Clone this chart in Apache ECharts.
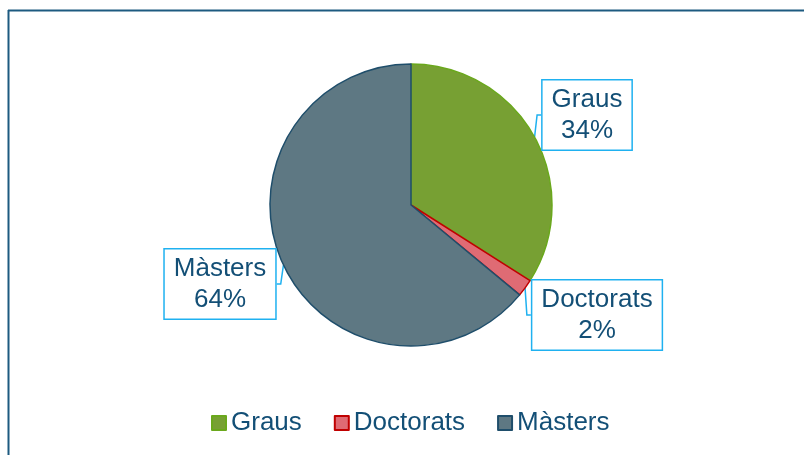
<!DOCTYPE html>
<html>
<head>
<meta charset="utf-8">
<script src="https://cdn.jsdelivr.net/npm/echarts@6/dist/echarts.min.js"></script>
<style>
  html, body { margin: 0; padding: 0; background: #fff; }
  #main { width: 804px; height: 455px; }
</style>
</head>
<body>
<div id="main"></div>
<script>
// dades
var categories = ['Graus', 'Doctorats', 'Màsters'];
var values = [34, 2, 64];
var fillColors = ['#77a033', '#df6b74', '#5e7883'];
var edgeColors = ['#6aa81c', '#c00000', '#1f4e6b'];

// posicions de les etiquetes (centre de la caixa)
var labelPos = [[587, 115], [597, 315], [220, 284]];

var textColor = '#134f76';
var calloutColor = '#1fb1f0';

var myChart = echarts.init(document.getElementById('main'));

var data = categories.map(function (name, i) {
  return {
    name: name,
    value: values[i],
    itemStyle: { color: fillColors[i], borderColor: edgeColors[i], borderWidth: 1.5 }
  };
});

myChart.setOption({
  animation: false,
  textStyle: { fontFamily: 'Liberation Sans, Arial, sans-serif' },
  graphic: [
    // marc del gràfic (només dalt i esquerra visibles)
    { type: 'line', shape: { x1: 8, y1: 10.5, x2: 804, y2: 10.5 }, style: { stroke: '#1d5a80', lineWidth: 2 } },
    { type: 'line', shape: { x1: 8.5, y1: 10, x2: 8.5, y2: 455 }, style: { stroke: '#1d5a80', lineWidth: 2 } }
  ],
  legend: {
    left: 206,
    top: 405,
    itemWidth: 14,
    itemHeight: 14,
    itemGap: 32,
    icon: 'rect',
    textStyle: { fontSize: 26, color: textColor },
    data: categories
  },
  series: [
    {
      name: 'Estudis',
      type: 'pie',
      center: [411, 205],
      radius: [0, 141],
      startAngle: 90,
      clockwise: true,
      avoidLabelOverlap: false,
      label: {
        show: true,
        formatter: '{b}\n{d}%',
        fontSize: 26,
        lineHeight: 31,
        color: textColor,
        backgroundColor: '#fff',
        borderColor: calloutColor,
        borderWidth: 1.5,
        padding: [4, 9, 3, 9],
        align: 'center'
      },
      labelLine: {
        show: true,
        length: 8,
        length2: 4,
        lineStyle: { color: calloutColor, width: 1.5 }
      },
      labelLayout: function (params) {
        var p = labelPos[params.dataIndex];
        return { x: p[0], y: p[1], align: 'center', verticalAlign: 'middle' };
      },
      emphasis: { disabled: true },
      data: data
    }
  ]
});
</script>
</body>
</html>
